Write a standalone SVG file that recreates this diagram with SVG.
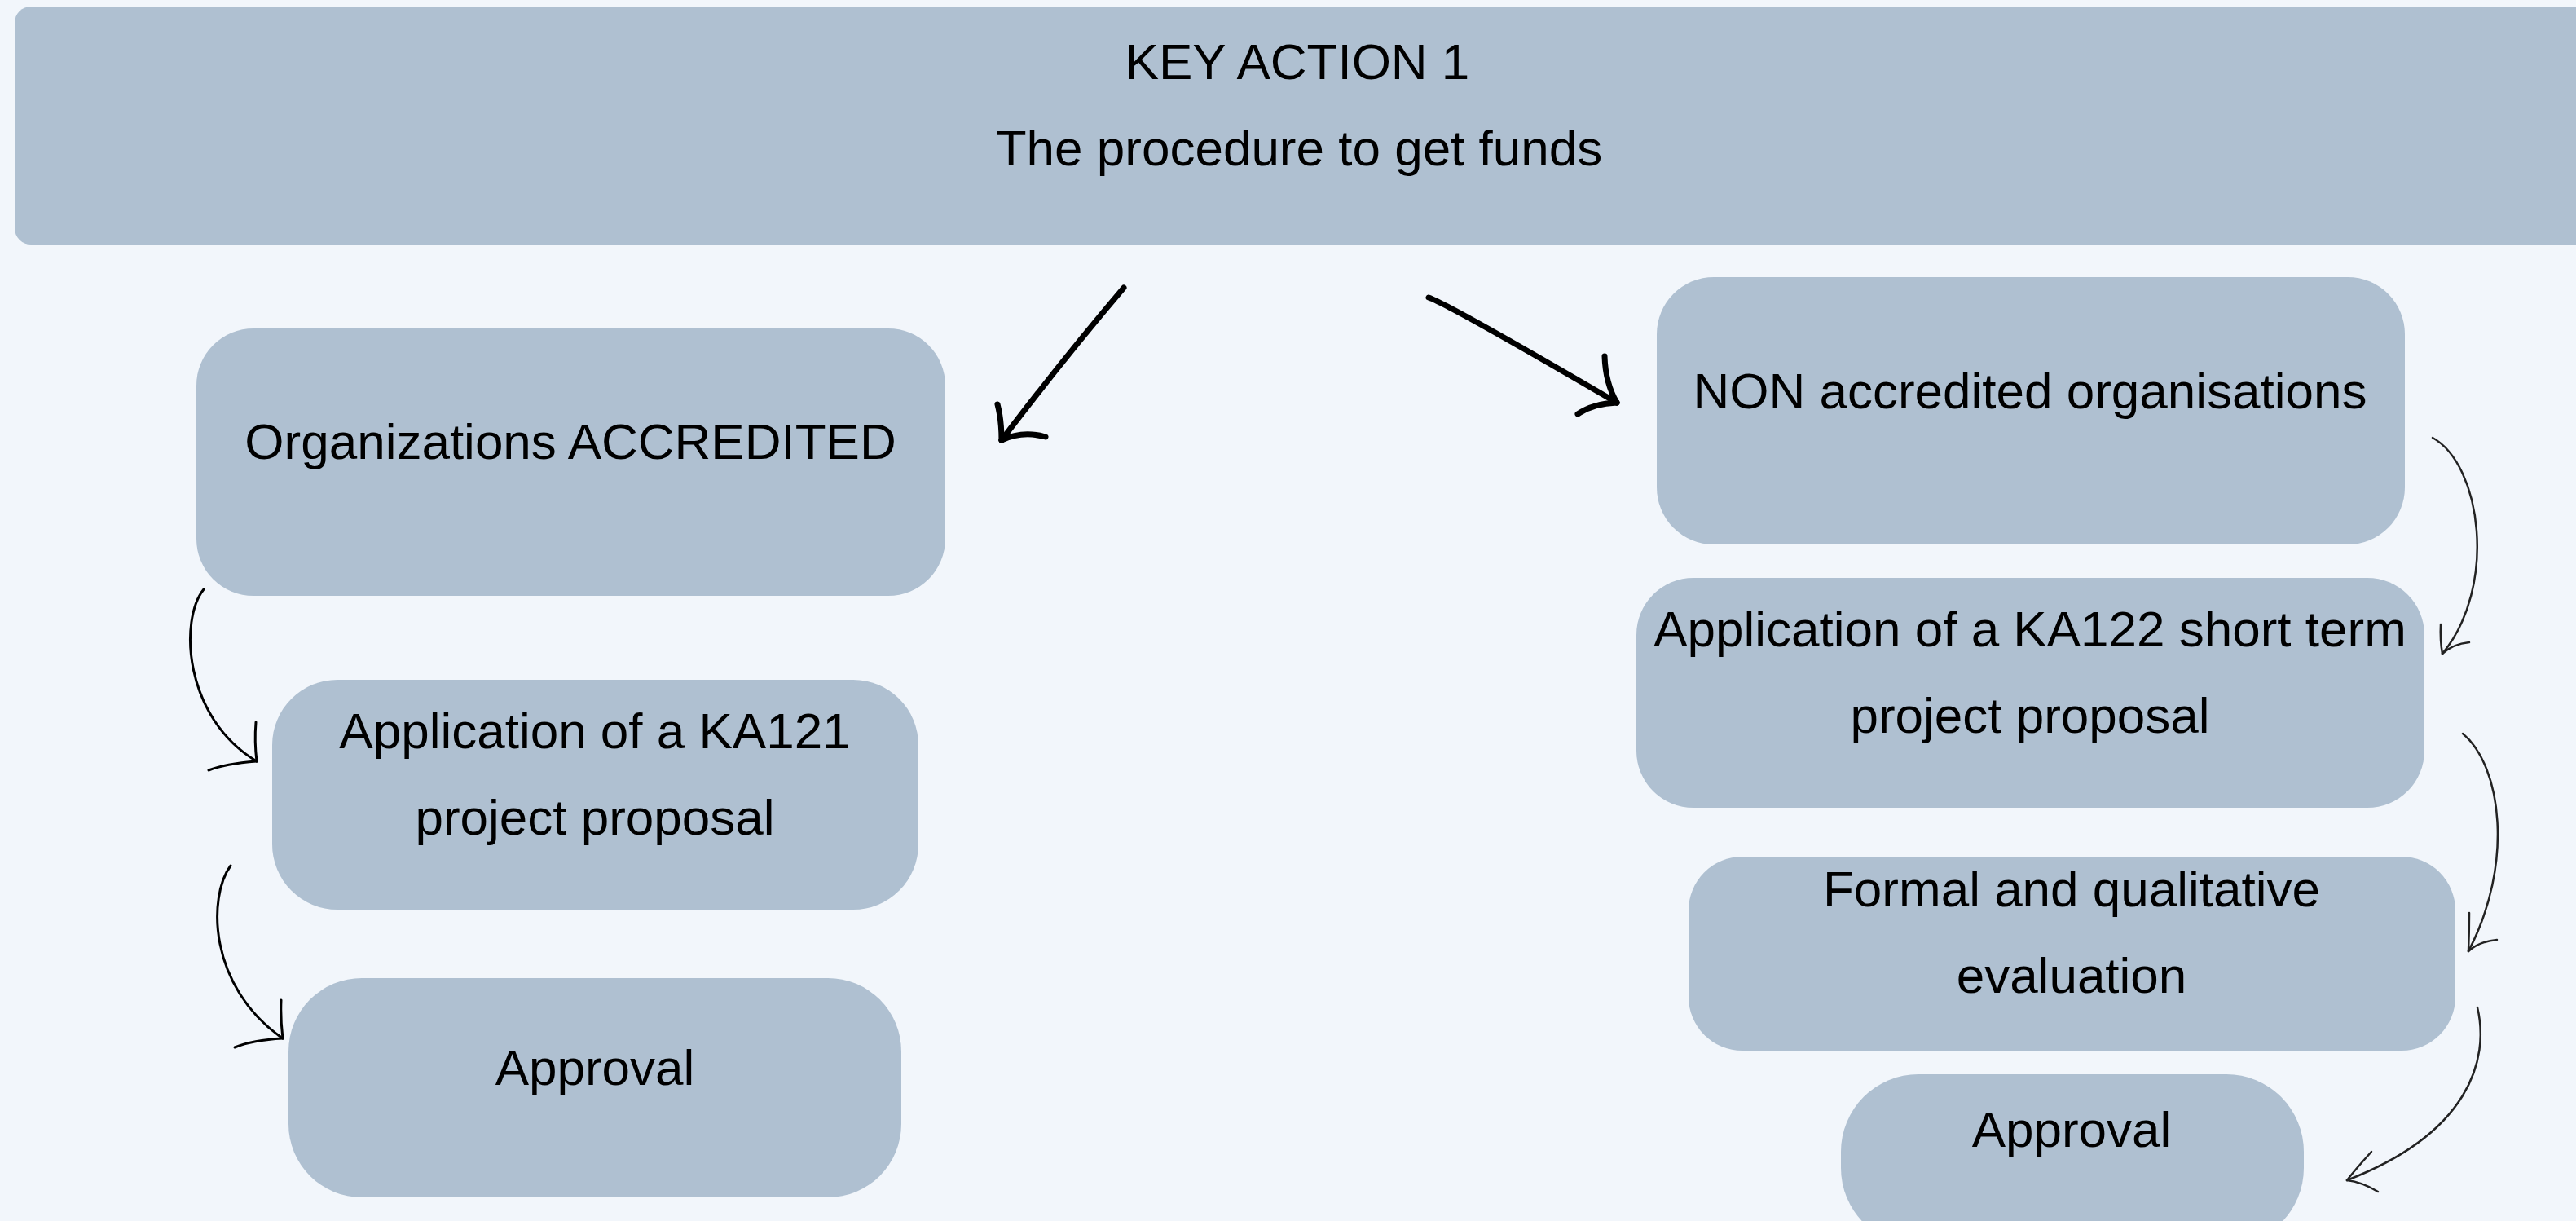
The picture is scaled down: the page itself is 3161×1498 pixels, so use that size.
<svg xmlns="http://www.w3.org/2000/svg" width="3161" height="1498" viewBox="0 0 3161 1498">
<style>
.bg{fill:#f2f6fb}
.box{fill:#afc0d1}
.t{font-family:"Liberation Sans",Arial,sans-serif;font-size:62px;fill:#000;text-anchor:middle}
.big{fill:none;stroke:#000;stroke-width:7;stroke-linecap:round;stroke-linejoin:round}
.sm{fill:none;stroke:#000;stroke-width:3;stroke-linecap:round}
.smr{fill:none;stroke:#222;stroke-width:2.5;stroke-linecap:round}
</style>
<rect class="bg" x="0" y="0" width="3161" height="1498"/>
<g id="header">
<rect class="box" x="18" y="8" width="3170" height="292" rx="20"/>
<text class="t" x="1592" y="97">KEY ACTION 1</text>
<text class="t" x="1594" y="203">The procedure to get funds</text>
</g>
<g id="accredited">
<rect class="box" x="241" y="403" width="919" height="328" rx="70"/>
<text class="t" x="700" y="563">Organizations ACCREDITED</text>
</g>
<g id="ka121">
<rect class="box" x="334" y="834" width="793" height="282" rx="80"/>
<text class="t" x="730" y="918">Application of a KA121</text>
<text class="t" x="730" y="1024">project proposal</text>
</g>
<g id="approval-left">
<rect class="box" x="354" y="1200" width="752" height="269" rx="90"/>
<text class="t" x="730" y="1331">Approval</text>
</g>
<g id="non-accredited">
<rect class="box" x="2033" y="340" width="918" height="328" rx="70"/>
<text class="t" x="2491" y="501">NON accredited organisations</text>
</g>
<g id="ka122">
<rect class="box" x="2008" y="709" width="967" height="282" rx="70"/>
<text class="t" x="2491" y="793">Application of a KA122 short term</text>
<text class="t" x="2491" y="899">project proposal</text>
</g>
<g id="evaluation">
<rect class="box" x="2072" y="1051" width="941" height="238" rx="66"/>
<text class="t" x="2542" y="1112">Formal and qualitative</text>
<text class="t" x="2542" y="1218">evaluation</text>
</g>
<g id="approval-right">
<rect class="box" x="2259" y="1318" width="568" height="210" rx="95"/>
<text class="t" x="2542" y="1407">Approval</text>
</g>
<g id="connectors">
<path class="big" d="M1379,353 Q1305,440 1229,540"/>
<path class="big" d="M1224,496 Q1229,515 1229,540"/>
<path class="big" d="M1283,536 Q1255,528 1229,540"/>
<path class="big" d="M1753,365 Q1775,372 1984,494"/>
<path class="big" d="M1969,437 Q1970,470 1984,494"/>
<path class="big" d="M1936,508 Q1955,495 1984,494"/>
<path class="sm" d="M250,723 C220,760 225,880 315,934"/>
<path class="sm" d="M314,886 Q312,910 315,934"/>
<path class="sm" d="M256,945 Q276,937 315,934"/>
<path class="sm" d="M283,1062 C255,1100 255,1210 347,1274"/>
<path class="sm" d="M345,1227 Q344,1250 347,1274"/>
<path class="sm" d="M288,1285 Q310,1276 347,1274"/>
<path class="smr" d="M2985,537 C3045,570 3065,720 2997,802"/>
<path class="smr" d="M2995,766 Q2994,785 2997,802"/>
<path class="smr" d="M3030,788 Q3010,790 2997,802"/>
<path class="smr" d="M3022,900 C3070,940 3085,1060 3029,1167"/>
<path class="smr" d="M3030,1120 Q3030,1145 3029,1167"/>
<path class="smr" d="M3064,1153 Q3042,1155 3029,1167"/>
<path class="smr" d="M3040,1236 C3055,1300 3030,1390 2880,1448"/>
<path class="smr" d="M2910,1413 Q2890,1435 2880,1448"/>
<path class="smr" d="M2918,1462 Q2898,1450 2880,1448"/>
</g>
</svg>
